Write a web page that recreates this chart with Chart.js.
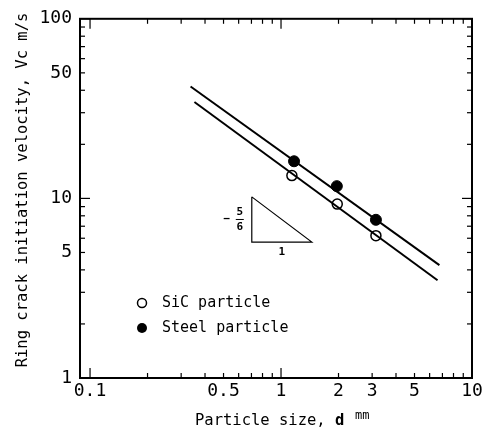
<!DOCTYPE html>
<html>
<head>
<meta charset="utf-8">
<script src="https://cdn.jsdelivr.net/npm/chart.js@4.4.0/dist/chart.umd.min.js"></script>
<style>
  html, body { margin: 0; padding: 0; background: #fff; }
  #wrap { width: 492px; height: 431px; }
</style>
</head>
<body>
<div id="wrap"><canvas id="myChart"></canvas></div>
<script>
// particle size d (mm) and ring crack initiation velocity Vc (m/s)
var sicSize = [1.14, 1.97, 3.14];
var sicVel = [13.4, 9.3, 6.2];
var steelSize = [1.17, 1.96, 3.14];
var steelVel = [16.1, 11.7, 7.6];

// fitted lines
var sicFitSize = [0.352, 6.6];
var sicFitVel = [34.4, 3.5];
var steelFitSize = [0.336, 6.75];
var steelFitVel = [42, 4.25];

// slope triangle (-5/6)
var triSize = [0.703, 0.703, 1.45, 0.703];
var triVel = [10.2, 5.71, 5.71, 10.2];

var xTickLabels = [0.1, 0.5, 1, 2, 3, 5, 10];
var yTickLabels = [1, 5, 10, 50, 100];
var xDecades = [0.1, 1];
var yDecades = [1, 10];

var MONO = "'DejaVu Sans Mono', monospace";

function pts(xs, ys) {
  return xs.map(function (x, i) { return { x: x, y: ys[i] }; });
}

function logTicks(decades) {
  var out = [];
  decades.forEach(function (d) {
    for (var m = 1; m < 10; m++) out.push(+(m * d).toPrecision(3));
  });
  out.push(+(decades[decades.length - 1] * 10).toPrecision(3));
  return out;
}

function isDecade(v) {
  var l = Math.log10(v);
  return Math.abs(l - Math.round(l)) < 1e-6;
}

// frame, inward ticks on all four sides, legend, triangle labels, axis titles
var decorations = {
  id: 'decorations',
  afterDraw: function (chart) {
    var ctx = chart.ctx, a = chart.chartArea;
    var xs = chart.scales.x, ys = chart.scales.y;
    function seg(x1, y1, x2, y2) {
      ctx.beginPath(); ctx.moveTo(x1, y1); ctx.lineTo(x2, y2); ctx.stroke();
    }
    ctx.save();
    ctx.strokeStyle = '#000';
    ctx.fillStyle = '#000';
    ctx.lineWidth = 2;
    ctx.strokeRect(a.left, a.top, a.right - a.left, a.bottom - a.top);

    ctx.lineWidth = 1.2;
    xs.ticks.forEach(function (t) {
      if (t.value < xs.min) return;
      var px = xs.getPixelForValue(t.value);
      var len = isDecade(t.value) ? 10 : 5;
      seg(px, a.bottom, px, a.bottom - len);
      seg(px, a.top, px, a.top + len);
    });
    ys.ticks.forEach(function (t) {
      var py = ys.getPixelForValue(t.value);
      var len = isDecade(t.value) ? 10 : 5;
      seg(a.left, py, a.left + len, py);
      seg(a.right, py, a.right - len, py);
    });

    // legend
    ctx.font = '15px ' + MONO;
    ctx.textBaseline = 'middle';
    ctx.textAlign = 'left';
    ctx.lineWidth = 1.5;
    ctx.beginPath(); ctx.arc(142, 303, 4.5, 0, Math.PI * 2);
    ctx.fillStyle = '#fff'; ctx.fill(); ctx.stroke();
    ctx.fillStyle = '#000';
    ctx.beginPath(); ctx.arc(142, 328, 5, 0, Math.PI * 2); ctx.fill();
    ctx.fillText('SiC particle', 162, 303);
    ctx.fillText('Steel particle', 162, 328);

    // slope triangle labels
    var tl = xs.getPixelForValue(triSize[0]);
    var tr = xs.getPixelForValue(triSize[2]);
    var tt = ys.getPixelForValue(triVel[0]);
    var tb = ys.getPixelForValue(triVel[1]);
    var my = (tt + tb) / 2;
    ctx.font = 'bold 11px ' + MONO;
    ctx.textAlign = 'center';
    ctx.fillText('\u2212', tl - 25, my);
    ctx.fillText('5', tl - 12, my - 7);
    ctx.fillText('6', tl - 12, my + 8);
    ctx.lineWidth = 1;
    seg(tl - 16, my, tl - 8, my);
    ctx.fillText('1', (tl + tr) / 2, tb + 10);

    // axis titles
    ctx.font = '15.5px ' + MONO;
    ctx.textAlign = 'left';
    ctx.fillText('Particle size, ', 195, 421);
    var w = ctx.measureText('Particle size, ').width;
    ctx.font = 'bold 15.5px ' + MONO;
    ctx.fillText('d', 195 + w, 421);
    ctx.font = '12px ' + MONO;
    ctx.fillText('mm', 195 + w + 20, 416);
    ctx.font = '15.5px ' + MONO;
    ctx.textAlign = 'center';
    ctx.translate(23, 190);
    ctx.rotate(-Math.PI / 2);
    ctx.fillText('Ring crack initiation velocity, Vc m/s', 0, 0);
    ctx.restore();
  }
};

const data = {
  datasets: [
    {
      label: 'Steel fit',
      data: pts(steelFitSize, steelFitVel),
      borderColor: '#000',
      borderWidth: 2,
      pointRadius: 0,
      showLine: true,
    },
    {
      label: 'SiC fit',
      data: pts(sicFitSize, sicFitVel),
      borderColor: '#000',
      borderWidth: 2,
      pointRadius: 0,
      showLine: true,
    },
    {
      label: 'Slope',
      data: pts(triSize, triVel),
      borderColor: '#000',
      borderWidth: 1.2,
      pointRadius: 0,
      showLine: true,
    },
    {
      label: 'SiC particle',
      data: pts(sicSize, sicVel),
      borderColor: '#000',
      backgroundColor: '#fff',
      borderWidth: 1.5,
      pointRadius: 5,
      showLine: false,
    },
    {
      label: 'Steel particle',
      data: pts(steelSize, steelVel),
      borderColor: '#000',
      backgroundColor: '#000',
      borderWidth: 1,
      pointRadius: 5.5,
      showLine: false,
    }
  ]
};

const config = {
  type: 'scatter',
  data: data,
  plugins: [decorations],
  options: {
    responsive: true,
    maintainAspectRatio: false,
    animation: false,
    layout: { padding: { top: 15, right: 20, left: 0, bottom: 0 } },
    plugins: {
      legend: { display: false },
      tooltip: { enabled: false },
    },
    scales: {
      x: {
        type: 'logarithmic',
        min: 0.0886,
        max: 10,
        grid: { display: false, drawTicks: false },
        border: { display: false },
        afterBuildTicks: function (s) {
          s.ticks = logTicks(xDecades).map(function (v) { return { value: v }; });
        },
        afterFit: function (s) { s.height = 53; },
        ticks: {
          autoSkip: false,
          maxRotation: 0,
          padding: 3,
          color: '#000',
          font: { family: MONO, size: 18 },
          callback: function (v) {
            return xTickLabels.indexOf(v) >= 0 ? String(v) : '';
          }
        }
      },
      y: {
        type: 'logarithmic',
        min: 1,
        max: 100,
        grid: { display: false, drawTicks: false },
        border: { display: false },
        afterBuildTicks: function (s) {
          s.ticks = logTicks(yDecades).map(function (v) { return { value: v }; });
        },
        afterFit: function (s) { s.width = 80; },
        ticks: {
          autoSkip: false,
          padding: 8,
          color: '#000',
          font: { family: MONO, size: 18 },
          callback: function (v) {
            return yTickLabels.indexOf(v) >= 0 ? String(v) : '';
          }
        }
      }
    }
  }
};

var chart = new Chart('myChart', config);
</script>
</body>
</html>
